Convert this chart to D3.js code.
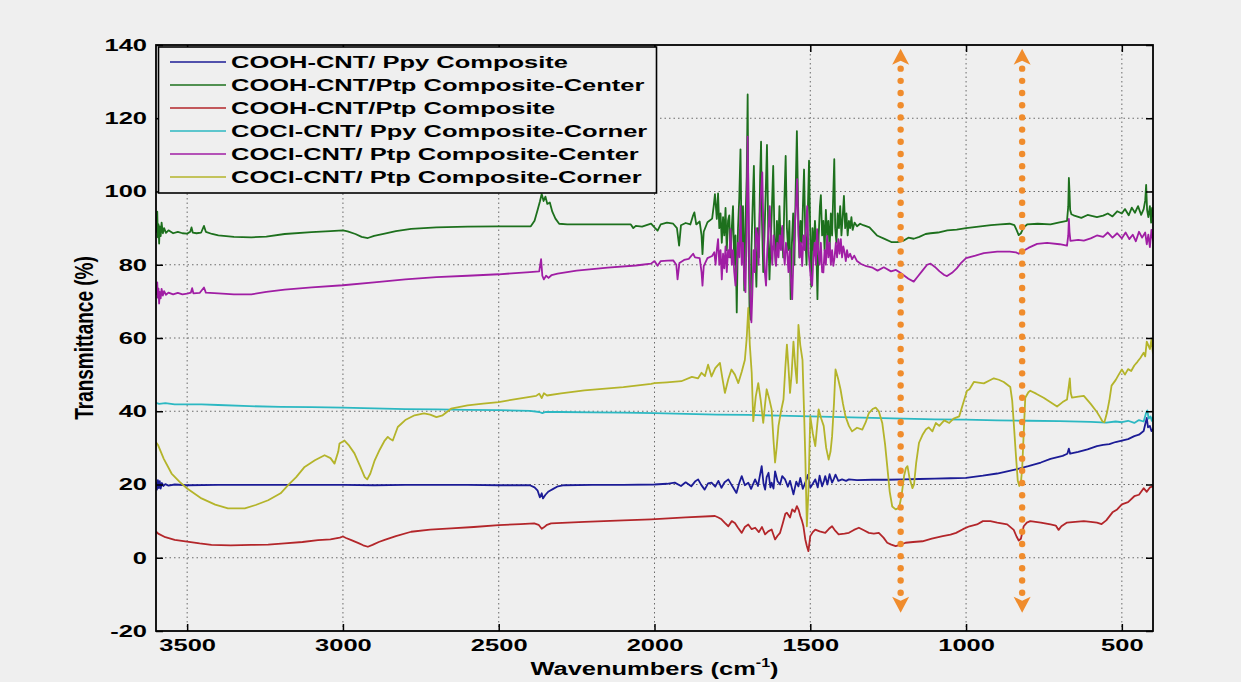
<!DOCTYPE html>
<html>
<head>
<meta charset="utf-8">
<script src="https://cdn.jsdelivr.net/npm/d3@7"></script>
<style>
  html, body { margin: 0; padding: 0; background: #efefef; }
  svg { display: block; }
  text { font-family: "Liberation Sans", Arial, Helvetica, sans-serif; fill: #000; }
</style>
</head>
<body>
<svg id="chart" width="1241" height="682"></svg>
<script>
// ---- FTIR spectra: [wavenumber (cm-1), transmittance (%)] ----
const cnfPpyCooh = [
  [3600,20.6],[3597,18.6],[3594,21.2],[3591,19.0],[3588,20.9],[3585,18.9],[3581,20.4],[3576,19.6],[3570,20.1],[3560,19.7],
  [3540,20.0],[3500,19.8],[3400,19.9],[3300,19.9],[3200,19.9],[3100,19.9],[3000,19.9],[2900,19.8],[2800,19.9],[2700,19.9],
  [2600,19.9],[2500,19.8],[2400,19.8],[2385,19.2],[2375,18.3],[2368,16.5],[2362,17.6],[2358,16.2],[2350,17.2],[2340,18.1],
  [2325,18.8],[2310,19.5],[2290,19.8],[2200,19.9],[2100,19.9],[2000,20.0],[1960,20.2],[1935,20.5],[1915,19.6],[1900,20.6],
  [1882,19.5],[1870,20.8],[1860,21.4],[1850,19.9],[1839,18.6],[1828,20.3],[1817,20.5],[1805,19.4],[1795,21.0],[1785,19.1],
  [1775,20.6],[1763,21.4],[1750,19.5],[1737,17.7],[1728,20.4],[1720,22.3],[1710,19.8],[1699,20.5],[1690,18.8],[1677,21.4],
  [1668,19.6],[1656,25.0],[1650,20.2],[1645,18.6],[1640,22.0],[1634,23.2],[1628,19.2],[1624,20.5],[1618,18.9],[1613,23.6],
  [1605,20.9],[1597,20.0],[1590,22.3],[1581,21.4],[1572,19.4],[1565,21.0],[1554,17.3],[1545,20.8],[1538,19.5],[1532,21.8],
  [1524,18.8],[1516,20.5],[1508,22.6],[1500,19.1],[1492,20.2],[1484,21.4],[1476,19.2],[1470,22.4],[1462,19.5],[1456,21.0],
  [1452,22.3],[1445,20.0],[1438,22.8],[1430,20.5],[1424,21.6],[1419,22.7],[1410,21.0],[1398,21.4],[1385,21.0],[1376,21.4],
  [1350,21.2],[1300,21.3],[1250,21.3],[1200,21.4],[1150,21.5],[1100,21.6],[1050,21.7],[1000,21.8],[946,22.4],[900,23.0],
  [836,24.2],[800,25.0],[760,26.0],[729,27.0],[690,27.8],[675,28.4],[670,29.8],[666,28.4],[640,28.9],[610,29.6],
  [580,30.5],[560,30.8],[540,31.0],[520,31.6],[500,32.0],[480,32.4],[460,33.2],[445,33.6],[430,34.6],[424,36.8],
  [420,38.2],[416,35.6],[410,36.0],[405,34.6],[400,35.2]
];

const cnfPtpCoohCenter = [
  [3600,93.0],[3598,89.0],[3596,94.5],[3594,87.5],[3592,91.0],[3590,85.8],[3588,90.5],[3585,87.8],[3582,91.5],[3578,88.6],
  [3574,90.0],[3568,88.7],[3560,89.4],[3545,88.6],[3530,89.0],[3515,88.6],[3500,88.5],[3490,89.0],[3486,90.2],[3482,88.8],
  [3470,88.6],[3455,88.8],[3446,90.6],[3440,89.0],[3420,88.4],[3400,88.0],[3350,87.6],[3294,87.5],[3246,87.7],[3187,88.4],
  [3101,88.9],[3040,89.2],[3000,89.4],[2985,89.1],[2960,88.4],[2940,87.6],[2920,87.3],[2900,87.9],[2866,88.5],[2830,89.2],
  [2781,89.8],[2700,90.2],[2600,90.4],[2500,90.5],[2397,90.5],[2385,92.0],[2375,95.0],[2368,97.2],[2362,99.3],[2356,97.4],
  [2350,98.6],[2344,96.6],[2336,97.0],[2328,94.5],[2318,92.6],[2306,91.2],[2280,91.0],[2225,91.0],[2150,91.0],[2076,91.0],
  [2068,90.0],[2060,90.6],[2040,90.4],[2011,91.2],[1998,90.0],[1990,89.3],[1980,91.0],[1960,91.5],[1940,91.2],[1928,90.0],
  [1921,85.2],[1915,90.8],[1900,91.4],[1885,91.0],[1876,93.5],[1872,94.3],[1866,91.0],[1855,91.8],[1849,88.0],[1846,82.9],
  [1842,89.0],[1830,91.6],[1815,92.6],[1810,96.0],[1806,99.3],
  [1800,92.5],[1796,99.5],[1792,90.0],[1788,94.0],[1784,86.0],[1780,93.0],[1776,88.0],[1772,95.5],[1768,84.0],[1764,92.0],
  [1760,93.5],[1756,82.0],[1752,90.0],[1748,96.0],[1744,80.0],[1740,88.0],[1736,67.0],[1732,90.0],[1728,98.0],[1724,111.5],
  [1720,82.0],[1716,96.0],[1712,73.0],[1708,92.0],[1704,104.0],[1701,126.5],[1698,88.0],[1695,68.0],[1692,65.0],[1689,84.0],
  [1685,96.0],[1681,107.0],[1677,85.0],[1673,74.0],[1669,90.0],[1665,82.0],[1661,104.0],[1658,113.6],[1655,92.0],[1651,78.0],
  [1647,88.0],[1643,100.0],[1639,112.7],[1635,90.0],[1631,76.0],[1627,86.0],[1623,96.0],[1619,107.0],[1615,88.0],[1611,80.0],
  [1607,92.0],[1603,84.0],[1599,96.0],[1595,86.0],[1591,90.0],[1587,82.0],[1583,98.0],[1579,109.7],[1575,90.0],[1571,84.0],
  [1567,92.0],[1563,70.6],[1559,86.0],[1555,94.0],[1551,80.0],[1547,100.0],[1543,116.5],[1539,96.0],[1535,82.0],[1531,92.0],
  [1527,86.0],[1523,98.0],[1520,106.0],[1516,88.0],[1512,80.0],[1508,94.0],[1504,108.4],[1500,88.0],[1497,74.0],[1493,90.0],
  [1489,84.0],[1485,92.0],[1481,86.0],[1477,70.6],[1473,88.0],[1469,96.0],[1466,99.0],[1462,88.0],[1458,92.0],[1454,84.0],
  [1450,95.0],[1446,88.0],[1442,92.0],[1438,84.0],[1434,94.0],[1430,88.0],[1426,100.0],[1423,108.8],[1420,90.0],[1416,86.0],
  [1412,94.0],[1408,90.0],[1404,96.0],[1400,88.0],[1396,93.0],[1392,98.8],[1388,90.0],[1384,94.0],[1380,88.0],[1376,92.0],
  [1372,90.0],[1368,93.0],[1364,89.5],[1358,91.5],[1350,90.5],[1340,91.2],
  [1330,90.8],[1310,90.2],[1286,88.0],[1260,87.0],[1240,86.2],[1221,86.2],[1200,86.6],[1185,87.4],[1168,87.1],[1150,87.6],
  [1130,88.4],[1114,88.6],[1090,88.8],[1060,89.4],[1030,89.6],[1000,90.0],[960,90.4],[920,90.8],[890,91.0],[860,91.2],
  [845,90.8],[838,89.5],[831,88.1],[824,88.6],[815,90.2],[804,91.0],[770,91.2],[729,91.0],[700,91.6],[676,92.0],
  [672,96.0],[670,103.7],[668,100.0],[666,95.0],[662,93.8],[655,93.5],[630,92.8],[610,93.6],[580,93.0],[560,93.4],
  [545,94.0],[530,93.2],[515,94.6],[500,94.0],[490,95.2],[478,93.5],[468,95.6],[458,94.2],[448,96.0],[438,93.6],
  [430,95.2],[425,97.5],[422,101.8],[419,95.0],[415,93.0],[410,96.0],[406,91.5],[403,95.5],[400,93.0]
];

const cnfPtpCooh = [
  [3600,7.2],[3593,6.6],[3570,5.6],[3540,4.9],[3500,4.4],[3460,3.9],[3422,3.5],[3360,3.4],[3294,3.5],[3240,3.6],
  [3187,3.9],[3130,4.3],[3080,4.8],[3040,5.0],[3010,5.5],[3000,5.8],[2990,5.4],[2973,4.8],[2950,4.0],[2935,3.4],
  [2920,3.0],[2905,3.5],[2885,4.3],[2866,4.9],[2830,5.9],[2781,7.1],[2720,7.7],[2653,8.0],[2580,8.4],[2500,8.9],
  [2430,9.2],[2386,9.4],[2372,9.0],[2362,7.9],[2355,8.3],[2345,9.0],[2332,9.4],[2225,9.8],[2100,10.2],[2011,10.5],
  [1900,11.0],[1806,11.4],[1795,11.0],[1785,10.5],[1775,9.6],[1763,8.6],[1752,10.0],[1742,9.5],[1732,8.2],[1720,6.8],
  [1710,8.4],[1699,9.1],[1688,7.8],[1677,8.2],[1665,7.0],[1655,8.4],[1645,6.4],[1635,7.2],[1624,7.7],[1613,5.0],
  [1605,6.0],[1597,6.8],[1588,9.5],[1580,12.0],[1575,12.3],[1565,11.0],[1558,13.2],[1550,12.5],[1543,14.1],[1537,13.0],
  [1532,11.4],[1527,10.2],[1522,8.6],[1516,5.0],[1511,3.2],[1506,1.8],[1500,5.9],[1492,7.0],[1484,7.7],[1470,7.2],
  [1452,6.8],[1440,7.9],[1430,8.6],[1420,7.4],[1409,6.4],[1390,6.6],[1376,6.8],[1360,7.6],[1344,8.2],[1328,7.5],
  [1312,6.8],[1296,6.6],[1280,6.8],[1265,5.5],[1253,4.1],[1240,3.6],[1226,3.2],[1210,3.6],[1194,4.1],[1170,4.3],
  [1140,4.5],[1110,5.2],[1075,5.9],[1050,6.3],[1032,6.8],[1010,7.8],[989,8.6],[965,9.1],[946,10.0],[922,10.0],
  [900,9.6],[868,9.1],[847,7.6],[838,5.8],[831,4.7],[824,5.2],[815,8.6],[805,9.6],[794,10.0],[760,9.6],
  [729,9.1],[712,8.8],[703,7.6],[694,8.6],[676,9.6],[650,9.8],[622,10.0],[600,9.8],[580,9.6],[565,9.2],
  [550,10.2],[530,12.4],[515,13.2],[500,14.6],[480,15.2],[460,16.8],[445,17.2],[430,19.0],[420,18.0],[410,19.2],
  [400,19.5]
];

const cnfPpyCoclCorner = [
  [3600,42.3],[3590,42.0],[3570,42.2],[3540,41.9],[3500,41.9],[3454,41.9],[3400,41.7],[3300,41.4],[3200,41.2],[3100,41.1],
  [3000,41.0],[2900,40.8],[2800,40.6],[2700,40.5],[2600,40.4],[2500,40.3],[2400,40.1],[2370,39.8],[2360,39.5],[2350,39.8],
  [2300,39.8],[2200,39.7],[2100,39.6],[2000,39.5],[1900,39.3],[1800,39.1],[1700,39.0],[1600,38.8],[1500,38.6],[1400,38.4],
  [1300,38.2],[1200,38.0],[1100,37.8],[1000,37.7],[900,37.5],[800,37.4],[700,37.3],[600,37.1],[550,36.9],[520,37.2],
  [500,37.0],[480,37.4],[460,36.8],[445,37.6],[430,37.2],[422,39.6],[418,40.2],[414,38.0],[408,38.6],[404,37.4],
  [400,38.5]
];

const cnfPtpCoclCenter = [
  [3600,74.5],[3598,72.0],[3596,75.2],[3594,71.0],[3592,73.5],[3590,69.4],[3588,72.6],[3585,70.8],[3582,73.4],[3578,71.6],
  [3574,72.8],[3568,71.8],[3560,72.4],[3545,71.9],[3530,72.3],[3515,71.9],[3500,72.1],[3488,72.4],[3484,73.6],[3480,72.2],
  [3460,72.3],[3446,73.8],[3440,72.4],[3400,72.2],[3350,71.9],[3294,71.9],[3246,72.6],[3187,73.2],[3100,73.8],[3000,74.4],
  [2900,75.2],[2800,76.0],[2700,76.6],[2600,77.0],[2500,77.4],[2400,78.0],[2370,78.2],[2364,81.5],[2360,77.0],[2355,76.0],
  [2348,77.0],[2340,76.4],[2330,77.2],[2311,77.6],[2250,78.4],[2150,79.2],[2060,79.8],[2040,80.0],[2011,80.3],[2000,81.0],
  [1990,79.7],[1980,81.0],[1958,81.1],[1940,81.2],[1930,80.0],[1926,76.0],[1920,80.5],[1905,81.3],[1890,81.6],[1876,83.0],
  [1870,82.0],[1855,81.8],[1849,78.0],[1846,74.3],[1842,79.6],[1830,81.8],[1815,82.4],[1808,83.4],
  [1804,80.0],[1800,84.0],[1796,87.0],[1792,80.0],[1788,84.0],[1784,76.0],[1780,83.0],[1776,79.0],[1772,85.0],[1768,78.0],
  [1764,84.0],[1760,82.0],[1756,89.7],[1752,80.0],[1748,84.0],[1744,78.0],[1740,74.3],[1736,80.0],[1732,86.0],[1728,82.0],
  [1724,96.0],[1720,80.0],[1716,86.0],[1712,76.0],[1708,72.5],[1704,90.0],[1701,115.0],[1698,96.0],[1695,78.0],[1692,70.0],
  [1689,64.3],[1686,72.0],[1682,84.0],[1678,78.0],[1674,90.0],[1670,87.9],[1666,80.0],[1662,94.0],[1658,100.0],[1654,105.2],
  [1650,88.0],[1646,78.0],[1642,74.3],[1638,84.0],[1634,90.0],[1630,96.0],[1626,86.0],[1622,80.0],[1618,88.0],[1614,84.0],
  [1610,79.7],[1606,86.0],[1602,82.0],[1598,88.0],[1594,84.0],[1590,90.6],[1586,84.0],[1582,80.0],[1578,86.0],[1574,83.4],
  [1570,78.0],[1566,84.0],[1562,76.0],[1558,70.6],[1554,82.0],[1550,90.0],[1546,96.0],[1542,103.4],[1538,88.0],[1534,82.0],
  [1530,86.0],[1526,79.7],[1522,88.0],[1518,84.0],[1514,90.0],[1510,96.0],[1506,84.0],[1502,80.0],[1498,76.0],[1494,74.3],
  [1490,82.0],[1486,86.0],[1482,80.0],[1478,89.7],[1474,84.0],[1470,80.0],[1466,86.0],[1462,78.0],[1458,77.9],[1454,84.0],
  [1450,80.0],[1446,87.9],[1442,82.0],[1438,86.0],[1434,80.0],[1430,84.0],[1426,79.7],[1422,82.0],[1418,86.0],[1414,82.0],
  [1410,87.0],[1406,83.0],[1402,87.0],[1398,82.0],[1394,85.0],[1390,83.4],[1386,81.0],[1382,84.0],[1378,82.0],[1372,83.0],
  [1366,81.5],[1359,82.5],[1350,81.0],[1337,80.2],
  [1320,79.6],[1300,79.2],[1284,78.4],[1264,79.3],[1241,78.2],[1225,78.6],[1211,77.8],[1198,77.0],[1185,76.2],[1168,75.4],
  [1155,76.8],[1140,78.4],[1125,80.0],[1114,80.3],[1100,79.4],[1085,78.2],[1070,77.2],[1061,76.9],[1045,77.8],[1030,79.0],
  [1015,80.6],[1000,81.8],[970,82.5],[943,83.2],[900,83.6],[860,83.6],[840,83.4],[831,83.0],[820,83.6],[800,84.6],
  [772,85.7],[740,86.0],[700,85.6],[676,85.2],[672,88.0],[670,92.5],[668,89.0],[665,86.5],[640,86.8],[622,86.6],
  [600,87.2],[580,88.0],[560,87.6],[545,88.8],[530,87.4],[515,88.6],[500,87.2],[488,88.8],[476,87.0],[465,88.2],
  [455,86.4],[445,89.0],[435,87.4],[425,88.8],[420,85.6],[415,88.2],[410,84.8],[405,89.5],[400,86.6]
];

const cnfPtpCoclCorner = [
  [3600,31.5],[3593,30.7],[3575,27.0],[3550,23.0],[3525,20.8],[3500,18.9],[3454,16.2],[3410,14.5],[3369,13.5],[3315,13.5],
  [3280,14.4],[3240,15.7],[3200,17.6],[3176,19.8],[3150,22.0],[3123,24.8],[3090,26.6],[3059,28.0],[3040,27.2],[3027,25.7],
  [3015,29.0],[3011,31.2],[2995,32.0],[2980,30.6],[2963,28.5],[2945,25.0],[2930,22.0],[2922,21.4],[2912,23.0],[2898,26.6],
  [2882,29.5],[2866,32.0],[2856,33.0],[2848,32.4],[2840,32.0],[2824,35.7],[2800,37.6],[2770,38.9],[2740,39.4],[2720,39.1],
  [2700,38.4],[2680,38.9],[2653,40.7],[2600,41.6],[2550,42.1],[2500,42.5],[2440,43.4],[2380,44.2],[2370,44.8],[2362,43.6],
  [2355,44.9],[2345,44.3],[2300,44.9],[2225,45.7],[2100,46.6],[2011,47.5],[2000,47.7],[1960,47.9],[1914,48.2],[1880,49.4],
  [1860,49.0],[1849,50.5],[1838,49.6],[1828,52.7],[1817,49.5],[1805,51.8],[1790,53.2],[1782,49.0],[1774,45.0],[1763,48.8],
  [1753,51.4],[1742,50.0],[1731,47.7],[1720,50.8],[1710,54.0],[1704,60.0],[1699,68.2],[1694,58.0],[1688,50.5],[1683,37.3],
  [1675,44.0],[1667,47.7],[1659,43.0],[1651,36.8],[1645,42.0],[1640,46.0],[1632,43.5],[1624,40.5],[1618,32.0],[1613,26.0],
  [1608,30.0],[1602,36.0],[1594,40.0],[1586,43.2],[1580,52.0],[1575,58.2],[1570,52.0],[1565,45.0],[1560,50.0],[1554,59.0],
  [1548,52.0],[1543,47.7],[1538,63.6],[1532,58.0],[1525,54.0],[1520,40.0],[1516,27.7],[1511,8.6],[1506,18.0],[1500,38.6],
  [1492,34.0],[1484,30.5],[1478,36.0],[1473,40.5],[1465,38.0],[1457,36.0],[1449,30.0],[1441,26.8],[1435,29.0],[1430,33.2],
  [1424,42.0],[1419,51.4],[1411,49.0],[1403,46.0],[1395,42.0],[1387,38.6],[1376,36.0],[1366,34.5],[1350,35.5],[1333,35.0],
  [1322,37.0],[1312,39.5],[1300,40.6],[1290,41.0],[1280,40.0],[1269,36.8],[1260,31.0],[1253,25.0],[1245,18.0],[1237,14.0],
  [1226,13.2],[1215,13.6],[1207,17.0],[1199,22.3],[1193,24.5],[1188,25.0],[1182,22.0],[1177,20.5],[1172,19.0],[1167,20.0],
  [1160,26.0],[1151,31.4],[1140,33.5],[1129,35.0],[1120,35.6],[1108,34.5],[1097,36.8],[1086,36.0],[1070,37.5],[1054,36.8],
  [1040,38.0],[1022,38.6],[1010,42.0],[997,45.6],[989,46.0],[975,48.0],[960,47.8],[943,47.6],[925,48.4],[911,49.0],
  [895,48.6],[879,48.0],[858,46.6],[852,43.0],[847,36.9],[840,28.0],[834,21.0],[829,19.6],[824,20.6],[820,24.2],
  [815,34.0],[810,43.7],[800,45.2],[794,45.6],[775,44.8],[751,43.7],[730,42.5],[708,41.3],[690,42.5],[676,43.2],
  [670,47.0],[667,49.0],[664,45.0],[660,43.7],[640,44.0],[622,44.2],[600,42.0],[580,39.8],[570,38.4],[562,37.2],
  [556,37.0],[548,39.5],[540,43.0],[533,47.0],[520,48.5],[510,50.0],[500,51.4],[490,50.0],[480,51.5],[470,51.0],
  [460,52.5],[450,53.5],[440,54.6],[430,56.0],[425,55.0],[420,59.0],[415,58.0],[410,57.0],[405,59.5],[400,55.7]
];

const seriesNames = [
  "COOH-CNT/ Ppy Composite",
  "COOH-CNT/Ptp Composite-Center",
  "COOH-CNT/Ptp Composite",
  "COCl-CNT/ Ppy Composite-Corner",
  "COCl-CNT/ Ptp Composite-Center",
  "COCl-CNT/ Ptp Composite-Corner"
];
const seriesData = [cnfPpyCooh, cnfPtpCoohCenter, cnfPtpCooh, cnfPpyCoclCorner, cnfPtpCoclCenter, cnfPtpCoclCorner];
const seriesColors = ["#1c1c96", "#1d701d", "#b3262a", "#2cb8c2", "#a01ea4", "#b4b42a"];

const xTicks = [3500, 3000, 2500, 2000, 1500, 1000, 500];
const yTicks = [-20, 0, 20, 40, 60, 80, 100, 120, 140];
const xDomain = [3600, 400];
const yDomain = [-20, 140];

// marked bands (cm-1) and the vertical extent of their arrows (%)
const bandMarks = [1210, 820];
const bandArrowSpan = [-15, 139];

// ---- layout ----
const W = 1241, H = 682;
const plot = { left: 156, right: 1153, top: 45, bottom: 631 };
const stretch = 1.5;   // wide lettering of the figure

const x = d3.scaleLinear().domain(xDomain).range([plot.left, plot.right]);
const y = d3.scaleLinear().domain(yDomain).range([plot.bottom, plot.top]);

const svg = d3.select("#chart");
svg.append("rect").attr("width", W).attr("height", H).attr("fill", "#efefef");

// dotted grid
const grid = svg.append("g")
  .attr("stroke", "#555").attr("stroke-width", 1)
  .attr("stroke-dasharray", "1.5,3").attr("opacity", 0.85);
grid.selectAll(".gx").data(xTicks).join("line")
  .attr("x1", d => x(d)).attr("x2", d => x(d))
  .attr("y1", plot.top).attr("y2", plot.bottom);
grid.selectAll(".gy").data(yTicks.filter(t => t > yDomain[0] && t < yDomain[1])).join("line")
  .attr("x1", plot.left).attr("x2", plot.right)
  .attr("y1", d => y(d)).attr("y2", d => y(d));

// spectra
svg.append("defs").append("clipPath").attr("id", "plotClip")
  .append("rect").attr("x", plot.left).attr("y", plot.top)
  .attr("width", plot.right - plot.left).attr("height", plot.bottom - plot.top);

const line = d3.line().x(d => x(d[0])).y(d => y(d[1]));
const traces = svg.append("g").attr("clip-path", "url(#plotClip)");
seriesData.forEach((data, i) => {
  traces.append("path")
    .datum(data)
    .attr("d", line)
    .attr("fill", "none")
    .attr("stroke", seriesColors[i])
    .attr("stroke-width", 1.8)
    .attr("stroke-linejoin", "round");
});

// band arrows (orange dotted, double headed)
const arrows = svg.append("g").attr("fill", "#f08c2c");
bandMarks.forEach(b => {
  const ax = x(b);
  const yTop = y(bandArrowSpan[1]);
  const yBot = y(bandArrowSpan[0]);
  const headLen = 16, headHalf = 8.5;
  arrows.append("path")
    .attr("d", `M${ax},${yTop} L${ax + headHalf},${yTop + headLen} L${ax},${yTop + headLen - 4} L${ax - headHalf},${yTop + headLen} Z`);
  arrows.append("path")
    .attr("d", `M${ax},${yBot} L${ax + headHalf},${yBot - headLen} L${ax},${yBot - headLen + 4} L${ax - headHalf},${yBot - headLen} Z`);
  const start = yTop + headLen + 4, end = yBot - headLen - 4;
  const n = Math.round((end - start) / 12.3);
  const dots = d3.range(n + 1).map(k => start + k * (end - start) / n);
  arrows.selectAll(null).data(dots).join("circle")
    .attr("cx", ax).attr("cy", d => d).attr("r", 3.2);
});

// axes: ticks inside on all four sides
function styleAxis(g) {
  g.select(".domain").remove();
  g.selectAll(".tick line").attr("stroke", "#000").attr("stroke-width", 1.5);
}
const fmt = d => String(d);   // plain hyphen for negatives

svg.append("g").attr("transform", `translate(0,${plot.bottom})`)
  .call(d3.axisBottom(x).tickValues(xTicks).tickSize(-7).tickPadding(8).tickFormat(fmt))
  .call(styleAxis)
  .call(g => g.selectAll(".tick text")
    .attr("font-size", 17).attr("font-weight", "bold")
    .attr("font-family", "'Liberation Sans', Arial, sans-serif")
    .attr("fill", "#000")
    .attr("transform", `scale(${stretch},1)`));

svg.append("g").attr("transform", `translate(0,${plot.top})`)
  .call(d3.axisTop(x).tickValues(xTicks).tickSize(-7).tickFormat(""))
  .call(styleAxis);

svg.append("g").attr("transform", `translate(${plot.left},0)`)
  .call(d3.axisLeft(y).tickValues(yTicks).tickSize(-7).tickPadding(6).tickFormat(fmt))
  .call(styleAxis)
  .call(g => g.selectAll(".tick text")
    .attr("font-size", 17).attr("font-weight", "bold")
    .attr("font-family", "'Liberation Sans', Arial, sans-serif")
    .attr("fill", "#000")
    .attr("transform", `scale(${stretch},1)`));

svg.append("g").attr("transform", `translate(${plot.right},0)`)
  .call(d3.axisRight(y).tickValues(yTicks).tickSize(-7).tickFormat(""))
  .call(styleAxis);

svg.append("rect")
  .attr("x", plot.left).attr("y", plot.top)
  .attr("width", plot.right - plot.left).attr("height", plot.bottom - plot.top)
  .attr("fill", "none").attr("stroke", "#000").attr("stroke-width", 1.8);

// axis titles
const xTitle = svg.append("text")
  .attr("transform", `translate(${(plot.left + plot.right) / 2},675) scale(1.34,1)`)
  .attr("text-anchor", "middle").attr("font-size", 19).attr("font-weight", "bold");
xTitle.append("tspan").text("Wavenumbers (cm");
xTitle.append("tspan").attr("font-size", 12).attr("dy", -8).text("-1");
xTitle.append("tspan").attr("dy", 8).text(")");

svg.append("text")
  .attr("transform", `translate(84,${(plot.top + plot.bottom) / 2}) scale(1.4,1) rotate(-90)`)
  .attr("text-anchor", "middle").attr("dy", "0.35em").attr("font-size", 19).attr("font-weight", "bold")
  .text("Transmittance (%)");

// legend
const legend = svg.append("g");
const lg = { x: 158.5, y: 47, w: 498, h: 146, row0: 62, rowStep: 23 };
legend.append("rect")
  .attr("x", lg.x).attr("y", lg.y).attr("width", lg.w).attr("height", lg.h)
  .attr("fill", "#efefef").attr("stroke", "#000").attr("stroke-width", 1.6);
seriesNames.forEach((name, i) => {
  const cy = lg.row0 + i * lg.rowStep;
  legend.append("line")
    .attr("x1", 170).attr("x2", 226).attr("y1", cy).attr("y2", cy)
    .attr("stroke", seriesColors[i]).attr("stroke-width", 1.6);
  legend.append("text")
    .attr("transform", `translate(231,${cy + 6}) scale(${stretch},1)`)
    .attr("font-size", 17).attr("font-weight", "bold")
    .text(name);
});
</script>
</body>
</html>
